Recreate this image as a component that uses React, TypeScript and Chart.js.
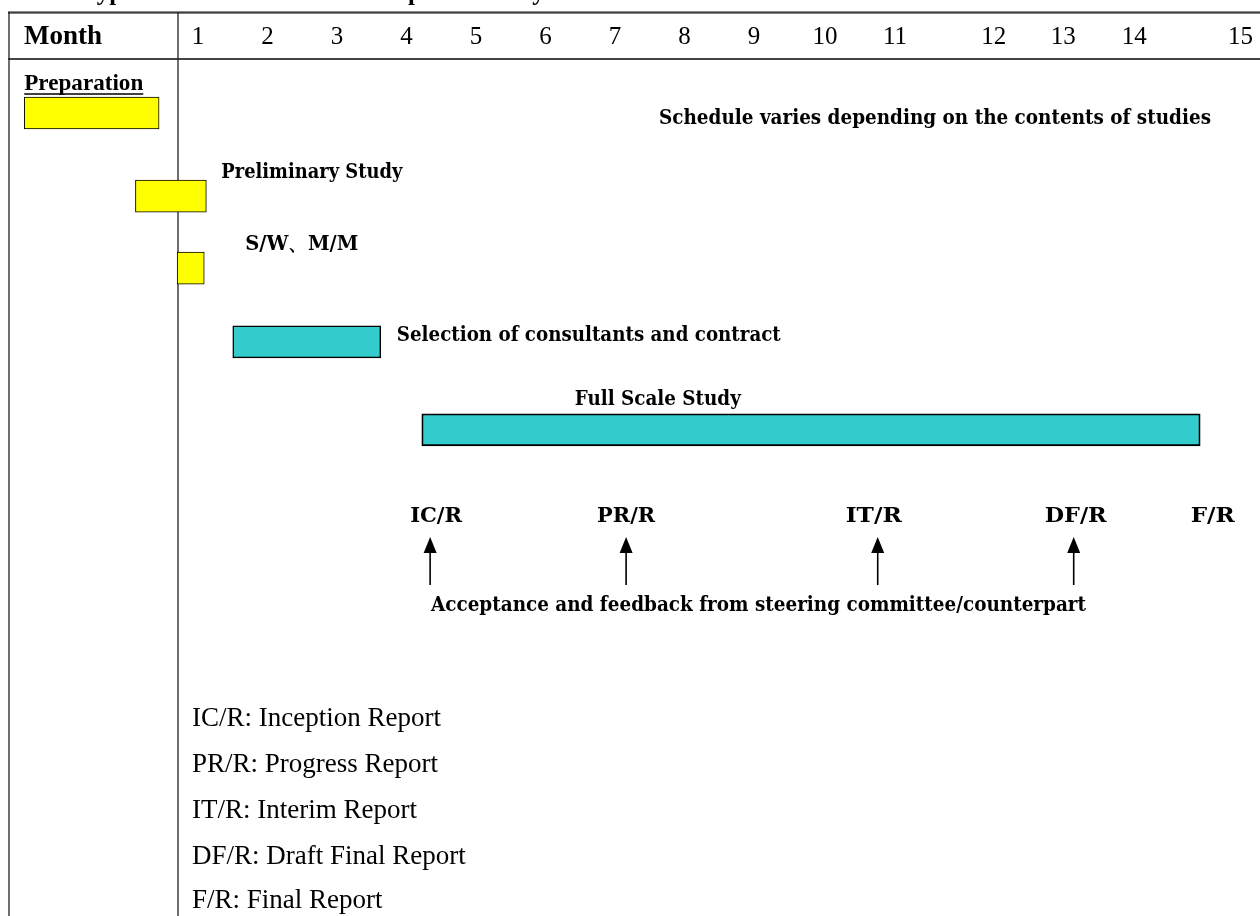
import React, { useEffect, useRef } from "react";
import { Chart, registerables } from "chart.js";

Chart.register(...registerables);

// ---------- data ----------
const titleText = "Typical Schedule of the Development Study";
const headerLabel = "Month";
const monthLabels = ["1", "2", "3", "4", "5", "6", "7", "8", "9", "10", "11", "12", "13", "14", "15"];
const monthPositions = [1, 2, 3, 4, 5, 6, 7, 8, 9, 10.02, 11.03, 12.45, 13.45, 14.47, 16.0];

const taskNames = [
  "Preparation",
  "Preliminary Study",
  "S/W、M/M",
  "Selection of consultants and contract",
  "Full Scale Study",
];
const taskStart = [-1.5, 0.1, 0.7, 1.5, 4.22];
const taskEnd = [0.44, 1.12, 1.09, 3.63, 15.42];
const taskLane = [1.0, 2.04, 2.94, 3.86, 4.96];
const taskColors = ["#FFFF00", "#FFFF00", "#FFFF00", "#33CCCC", "#33CCCC"];

const noteText = "Schedule varies depending on the contents of studies";

const milestoneNames = ["IC/R", "PR/R", "IT/R", "DF/R", "F/R"];
const milestoneAt = [4.34, 7.16, 10.78, 13.6, 15.6];
const milestoneArrow = [true, true, true, true, false];
const feedbackText = "Acceptance and feedback from steering committee/counterpart";

const legendLines = [
  "IC/R: Inception Report",
  "PR/R: Progress Report",
  "IT/R: Interim Report",
  "DF/R: Draft Final Report",
  "F/R: Final Report",
];

// ---------- layout / style ----------
const W = 1260;
const H = 916;
const PX_PER_MONTH = 69.5;
const X_MIN = 1 - 198 / PX_PER_MONTH;
const X_MAX = X_MIN + W / PX_PER_MONTH;
const PX_PER_LANE = 80;
const Y_MIN = -33 / PX_PER_LANE;
const Y_MAX = (H - 33) / PX_PER_LANE;

const MINCHO = "'DejaVu Serif', serif";
const TIMES = "'Liberation Serif', 'Times New Roman', serif";

// label placement relative to bars
const taskLabelLayout = [
  { anchor: "start", dx: 0, dy: -29, width: 119 },
  { anchor: "end", dx: 15, dy: -23, width: 181 },
  { anchor: "end", dx: 41, dy: -23, width: 113 },
  { anchor: "end", dx: 16, dy: -6, width: 384 },
  { anchor: "start", dx: 153, dy: -30, width: 166 },
];
const milestoneLabelWidths = [52, 58, 56, 62, 44];
const milestoneLabelDx = [6, 0, -4, 2, 0];
const legendY = [719, 765, 811, 857, 901];

function drawText(
  ctx: CanvasRenderingContext2D,
  text: string,
  x: number,
  y: number,
  font: string,
  width?: number,
  align: "left" | "center" = "left"
) {
  ctx.save();
  ctx.font = font;
  ctx.textBaseline = "middle";
  ctx.fillStyle = "#000";
  const w = ctx.measureText(text).width;
  const sx = width ? width / w : 1;
  const left = align === "center" ? x - (w * sx) / 2 : x;
  ctx.translate(left, y);
  ctx.scale(sx, 1);
  ctx.fillText(text, 0, 0);
  ctx.restore();
}

const schedulePlugin = {
  id: "schedulePlugin",
  beforeDatasetsDraw(chart: any) {
    const ctx: CanvasRenderingContext2D = chart.ctx;
    ctx.save();
    ctx.strokeStyle = "#888";
    ctx.lineWidth = 1;
    ctx.beginPath();
    ctx.moveTo(8, 11.5);
    ctx.lineTo(W, 11.5);
    ctx.stroke();
    ctx.strokeStyle = "#000";
    ctx.lineWidth = 1.2;
    ctx.beginPath();
    ctx.moveTo(8, 12.8);
    ctx.lineTo(W, 12.8);
    ctx.stroke();
    ctx.strokeStyle = "#444";
    ctx.lineWidth = 1.8;
    ctx.beginPath();
    ctx.moveTo(8, 59);
    ctx.lineTo(W, 59);
    ctx.stroke();
    ctx.strokeStyle = "#222";
    ctx.lineWidth = 1.3;
    ctx.beginPath();
    ctx.moveTo(9, 12);
    ctx.lineTo(9, H);
    ctx.moveTo(178, 12);
    ctx.lineTo(178, H);
    ctx.stroke();
    ctx.restore();
  },
  afterDatasetsDraw(chart: any) {
    const ctx: CanvasRenderingContext2D = chart.ctx;
    const xs = chart.scales.x;
    const ys = chart.scales.y;

    // cut-off title
    ctx.save();
    ctx.font = `bold 25px ${TIMES}`;
    ctx.textBaseline = "alphabetic";
    ctx.fillStyle = "#000";
    ctx.fillText(titleText, 82, 0);
    ctx.restore();

    // header row
    drawText(ctx, headerLabel, 24, 37, `bold 27px ${TIMES}`, 78);
    monthLabels.forEach((m, i) => {
      drawText(ctx, m, xs.getPixelForValue(monthPositions[i]), 37, `25px ${TIMES}`, undefined, "center");
    });

    // task labels
    taskNames.forEach((name, i) => {
      const L = taskLabelLayout[i];
      const bx = L.anchor === "start" ? xs.getPixelForValue(taskStart[i]) : xs.getPixelForValue(taskEnd[i]);
      const by = ys.getPixelForValue(taskLane[i]);
      if (i === 0) {
        drawText(ctx, name, bx + L.dx, by + L.dy, `bold 23px ${TIMES}`, L.width);
        ctx.save();
        ctx.strokeStyle = "#000";
        ctx.lineWidth = 1.4;
        ctx.beginPath();
        ctx.moveTo(bx + L.dx, by + L.dy + 10);
        ctx.lineTo(bx + L.dx + L.width, by + L.dy + 10);
        ctx.stroke();
        ctx.restore();
      } else {
        drawText(ctx, name, bx + L.dx, by + L.dy, `bold 20px ${MINCHO}`, L.width);
      }
    });

    // note
    drawText(ctx, noteText, 659, 119, `bold 20px ${MINCHO}`, 552);

    // milestones
    milestoneNames.forEach((name, i) => {
      const x = xs.getPixelForValue(milestoneAt[i]);
      drawText(ctx, name, x + milestoneLabelDx[i], 517, `bold 20px ${MINCHO}`, milestoneLabelWidths[i], "center");
      if (milestoneArrow[i]) {
        ctx.save();
        ctx.strokeStyle = "#000";
        ctx.fillStyle = "#000";
        ctx.lineWidth = 1.6;
        ctx.beginPath();
        ctx.moveTo(x, 585);
        ctx.lineTo(x, 550);
        ctx.stroke();
        ctx.beginPath();
        ctx.moveTo(x, 537);
        ctx.lineTo(x - 6.5, 553);
        ctx.lineTo(x + 6.5, 553);
        ctx.closePath();
        ctx.fill();
        ctx.restore();
      }
    });
    drawText(ctx, feedbackText, 431, 606, `bold 20px ${MINCHO}`, 655);

    // legend lines
    legendLines.forEach((t, i) => {
      drawText(ctx, t, 192, legendY[i], `27px ${TIMES}`);
    });
  },
};

export default function App() {
  const ref = useRef<HTMLCanvasElement | null>(null);

  useEffect(() => {
    document.body.style.margin = "0";
    const canvas = ref.current;
    if (!canvas) return;
    const chart = new Chart(canvas, {
      type: "bar",
      data: {
        datasets: [
          {
            label: "Schedule",
            data: taskStart.map((s, i) => ({ x: [s, taskEnd[i]], y: taskLane[i] })) as any,
            backgroundColor: taskColors,
            borderColor: "#000",
            borderWidth: [1, 1, 1, 1.5, 1.8],
            borderSkipped: false,
            barThickness: 32,
          },
        ],
      },
      options: {
        indexAxis: "y",
        responsive: false,
        animation: false,
        maintainAspectRatio: false,
        layout: { padding: 0 },
        plugins: {
          legend: { display: false },
          tooltip: { enabled: false },
          title: { display: false },
        },
        scales: {
          x: { type: "linear", min: X_MIN, max: X_MAX, display: false, offset: false },
          y: { type: "linear", min: Y_MIN, max: Y_MAX, reverse: true, display: false, offset: false },
        },
      },
      plugins: [schedulePlugin],
    });
    return () => chart.destroy();
  }, []);

  return (
    <div style={{ position: "absolute", left: 0, top: 0, width: W, height: H, background: "#fff" }}>
      <canvas ref={ref} width={W} height={H} style={{ display: "block" }} />
    </div>
  );
}
